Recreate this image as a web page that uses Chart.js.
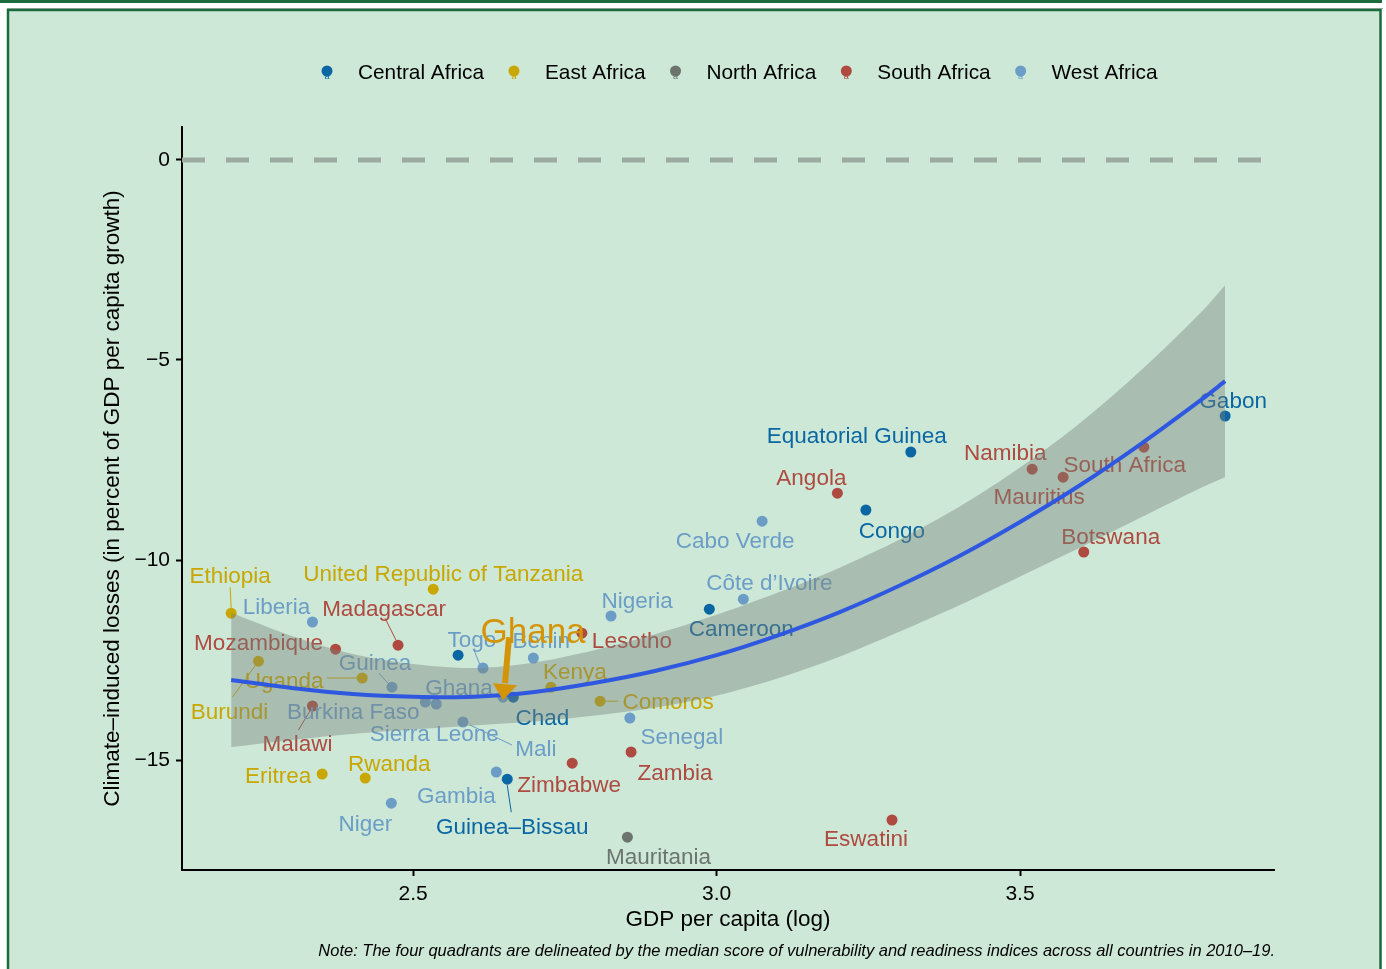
<!DOCTYPE html>
<html>
<head>
<meta charset="utf-8">
<script src="https://cdn.jsdelivr.net/npm/chart.js@4.4.1/dist/chart.umd.min.js"></script>
<style>
  html, body { margin: 0; padding: 0; background: #ffffff; }
  canvas { display: block; }
</style>
</head>
<body>
<canvas id="chart" width="1386" height="969"></canvas>
<script>
// ---- data ----------------------------------------------------------------
const countries = [
  'Ethiopia', 'Liberia', 'Madagascar', 'United Republic of Tanzania', 'Mozambique',
  'Burundi', 'Uganda', 'Guinea', 'Malawi', 'Burkina Faso',
  'Sierra Leone', 'Mali', 'Ghana', 'Chad', '',
  'Togo', 'Benin', 'Kenya', 'Lesotho', 'Nigeria',
  'Comoros', 'Senegal', 'Zambia', 'Zimbabwe', 'Gambia',
  'Guinea\u2013Bissau', 'Mauritania', 'Niger', 'Eritrea', 'Rwanda',
  'Cameroon', 'C\u00f4te d\u2019Ivoire', 'Cabo Verde', 'Angola', 'Congo',
  'Equatorial Guinea', 'Eswatini', 'Namibia', 'Mauritius', 'South Africa',
  'Botswana', 'Gabon'
];
const gdpPerCapitaLog = [
  2.200, 2.334, 2.475, 2.533, 2.372,
  2.245, 2.416, 2.465, 2.334, 2.520,
  2.538, 2.582, 2.648, 2.665, 2.574,
  2.615, 2.698, 2.727, 2.778, 2.826,
  2.808, 2.857, 2.859, 2.762, 2.637,
  2.655, 2.853, 2.464, 2.350, 2.421,
  2.988, 3.044, 3.075, 3.199, 3.246,
  3.320, 3.289, 3.520, 3.571, 3.704,
  3.605, 3.838
];
const climateLosses = [
  -11.33, -11.55, -12.13, -10.73, -12.23,
  -12.53, -12.95, -13.18, -13.65, -13.55,
  -13.60, -14.05, -13.43, -13.43, -12.38,
  -12.70, -12.45, -13.18, -11.83, -11.40,
  -13.53, -13.95, -14.80, -15.08, -15.30,
  -15.48, -16.93, -16.08, -15.35, -15.45,
  -11.23, -10.98, -9.03, -8.33, -8.75,
  -7.30, -16.50, -7.73, -7.93, -7.18,
  -9.80, -6.40
];
const countryRegion = [
  'East Africa', 'West Africa', 'South Africa', 'East Africa', 'South Africa',
  'East Africa', 'East Africa', 'West Africa', 'South Africa', 'West Africa',
  'West Africa', 'West Africa', 'West Africa', 'Central Africa', 'Central Africa',
  'West Africa', 'West Africa', 'East Africa', 'South Africa', 'West Africa',
  'East Africa', 'West Africa', 'South Africa', 'South Africa', 'West Africa',
  'Central Africa', 'North Africa', 'West Africa', 'East Africa', 'East Africa',
  'Central Africa', 'West Africa', 'West Africa', 'South Africa', 'Central Africa',
  'Central Africa', 'South Africa', 'South Africa', 'South Africa', 'South Africa',
  'South Africa', 'Central Africa'
];
const regions = ['Central Africa', 'East Africa', 'North Africa', 'South Africa', 'West Africa'];
const regionColors = ['#0b67a3', '#c8a700', '#6b756d', '#ae4a40', '#6b9dc6'];

// quadratic fit with its 95% confidence band
const fitX     = [2.2, 2.3, 2.4, 2.5, 2.6, 2.7, 2.8, 2.9, 3.0, 3.1, 3.2, 3.3, 3.4, 3.5, 3.6, 3.7, 3.8, 3.838];
const fitY     = [-13.00, -13.20, -13.35, -13.42, -13.42, -13.30, -13.07, -12.77, -12.38, -11.89, -11.32, -10.65, -9.90, -9.05, -8.12, -7.09, -5.98, -5.53];
const fitUpper = [-11.32, -11.90, -12.35, -12.60, -12.70, -12.56, -12.25, -11.85, -11.37, -10.82, -10.21, -9.50, -8.67, -7.69, -6.56, -5.25, -3.78, -3.13];
const fitLower = [-14.68, -14.50, -14.35, -14.24, -14.14, -14.04, -13.89, -13.69, -13.39, -12.96, -12.43, -11.80, -11.13, -10.41, -9.68, -8.93, -8.18, -7.93];

const xTicks = [2.5, 3.0, 3.5];
const xTickLabels = ['2.5', '3.0', '3.5'];
const yTicks = [0, -5, -10, -15];
const yTickLabels = ['0', '\u22125', '\u221210', '\u221215'];
const zeroLine = 0;
const highlightCountry = 'Ghana';

const xTitle = 'GDP per capita (log)';
const yTitle = 'Climate\u2013induced losses (in percent of GDP per capita growth)';
const noteText = 'Note: The four quadrants are delineated by the median score of vulnerability and readiness indices across all countries in 2010\u201319.';

// ---- label placement (pixel offsets from each point) ----------------------
// [dx, dy] for the label centre, optional leader segment [x1, y1, x2, y2]
const labelPlacement = {
  'Ethiopia': [-1, -38, [-1, -26, 0, -5]],
  'Liberia': [-36, -16],
  'Madagascar': [-14, -37, [-13, -27, -2, -5]],
  'United Republic of Tanzania': [10, -16],
  'Mozambique': [-77, -7],
  'Burundi': [-29, 50, [-26, 36, -3, 4]],
  'Uganda': [-78, 2, [-35, 0, -5, 0]],
  'Guinea': [-17, -25, [-13, -14, -4, -4]],
  'Malawi': [-15, 37, [-14, 24, -2, 4]],
  'Burkina Faso': [-72, 9],
  'Sierra Leone': [-2, 29],
  'Mali': [73, 26, [7, 3, 49, 23]],
  'Ghana': [-44, -10],
  'Chad': [29, 20],
  'Togo': [-11, -29, [-9, -18, -3, -3]],
  'Benin': [8, -18],
  'Kenya': [24, -16],
  'Lesotho': [50, 7],
  'Nigeria': [26, -16],
  'Comoros': [68, 0, [6, 0, 18, 0]],
  'Senegal': [52, 18],
  'Zambia': [44, 20],
  'Zimbabwe': [-3, 21],
  'Gambia': [-40, 23],
  'Guinea\u2013Bissau': [5, 47, [0, 6, 4, 33]],
  'Mauritania': [31, 19],
  'Niger': [-26, 20],
  'Eritrea': [-44, 1],
  'Rwanda': [24, -15],
  'Cameroon': [32, 19],
  'C\u00f4te d\u2019Ivoire': [26, -17],
  'Cabo Verde': [-27, 19],
  'Angola': [-26, -16],
  'Congo': [26, 20],
  'Equatorial Guinea': [-54, -17],
  'Eswatini': [-26, 18],
  'Namibia': [-27, -17],
  'Mauritius': [-24, 19],
  'South Africa': [-19, 17],
  'Botswana': [27, -16],
  'Gabon': [8, -16]
};

const FONT = '"Liberation Sans", Arial, Helvetica, sans-serif';
const HIGHLIGHT_COLOR = '#d4940a';
const BG = '#cde8d7';
const FRAME = '#1b6b3f';

const colorOf = r => regionColors[regions.indexOf(r)];

// ---- datasets ------------------------------------------------------------
const scatterSets = regions.map((r, ri) => ({
  type: 'scatter',
  label: r,
  order: 5,
  data: countries.map((c, i) => ({ x: gdpPerCapitaLog[i], y: climateLosses[i], name: c, region: countryRegion[i] }))
                 .filter(p => p.region === r),
  backgroundColor: regionColors[ri],
  borderWidth: 0,
  pointRadius: 5.5
}));

const datasets = [
  {
    type: 'line', label: 'zero', order: 10,
    data: [{ x: 2.119, y: zeroLine }, { x: 3.9185, y: zeroLine }],
    borderColor: '#9cab9f', borderWidth: 5, borderDash: [23, 21],
    pointRadius: 0, fill: false
  },
  ...scatterSets,
  {
    type: 'line', label: 'lower', order: 2,
    data: fitX.map((x, i) => ({ x, y: fitLower[i] })),
    borderWidth: 0, pointRadius: 0, tension: 0.3, fill: false
  },
  {
    type: 'line', label: 'upper', order: 1,
    data: fitX.map((x, i) => ({ x, y: fitUpper[i] })),
    borderWidth: 0, pointRadius: 0, tension: 0.3,
    fill: { target: 6 }, backgroundColor: 'rgba(120,128,122,0.42)'
  },
  {
    type: 'line', label: 'fit', order: 0,
    data: fitX.map((x, i) => ({ x, y: fitY[i] })),
    borderColor: '#2f58e0', borderWidth: 4, pointRadius: 0, tension: 0.3, fill: false
  }
];
const LOWER_INDEX = 6;

// ---- plugins -------------------------------------------------------------
const framePlugin = {
  id: 'frame',
  beforeDraw(chart) {
    const ctx = chart.ctx;
    ctx.save();
    ctx.fillStyle = '#ffffff';
    ctx.fillRect(0, 0, chart.width, chart.height);
    ctx.fillStyle = FRAME;
    ctx.fillRect(0, 0, 1382, 3);
    ctx.fillStyle = '#a9b5ad';
    ctx.fillRect(7, 8, 1376, 1);
    ctx.fillStyle = BG;
    ctx.fillRect(8, 10, 1373, chart.height);
    ctx.strokeStyle = FRAME;
    ctx.lineWidth = 2.5;
    ctx.strokeRect(8, 10, 1372.5, chart.height + 10);
    ctx.restore();
  }
};

function drawCountryLabels(chart) {
  const ctx = chart.ctx;
  const xs = chart.scales.x, ys = chart.scales.y;
  ctx.save();
  ctx.font = `22.5px ${FONT}`;
  ctx.textAlign = 'center';
  ctx.textBaseline = 'middle';
  countries.forEach((c, i) => {
    const place = labelPlacement[c];
    if (!place) return;
    const px = xs.getPixelForValue(gdpPerCapitaLog[i]);
    const py = ys.getPixelForValue(climateLosses[i]);
    const col = colorOf(countryRegion[i]);
    if (place[2]) {
      const s = place[2];
      ctx.strokeStyle = col;
      ctx.lineWidth = 1;
      ctx.beginPath();
      ctx.moveTo(px + s[0], py + s[1]);
      ctx.lineTo(px + s[2], py + s[3]);
      ctx.stroke();
    }
    ctx.fillStyle = col;
    ctx.fillText(c, px + place[0], py + place[1] + 1.5);
  });
  ctx.restore();
}

const labelPlugin = {
  id: 'countryLabels',
  beforeDatasetDraw(chart, args) {
    if (args.index === LOWER_INDEX) drawCountryLabels(chart);
  }
};

const highlightPlugin = {
  id: 'highlight',
  afterDatasetsDraw(chart) {
    const i = countries.indexOf(highlightCountry);
    const px = chart.scales.x.getPixelForValue(gdpPerCapitaLog[i]);
    const py = chart.scales.y.getPixelForValue(climateLosses[i]);
    const ctx = chart.ctx;
    ctx.save();
    ctx.strokeStyle = HIGHLIGHT_COLOR;
    ctx.fillStyle = HIGHLIGHT_COLOR;
    ctx.lineWidth = 6;
    ctx.beginPath();
    ctx.moveTo(px + 6, py - 60);
    ctx.lineTo(px + 2, py - 14);
    ctx.stroke();
    ctx.beginPath();
    ctx.moveTo(px - 10, py - 14);
    ctx.lineTo(px + 14, py - 12);
    ctx.lineTo(px, py + 3);
    ctx.closePath();
    ctx.fill();
    ctx.font = `35px ${FONT}`;
    ctx.textAlign = 'center';
    ctx.textBaseline = 'middle';
    ctx.fillText(highlightCountry, px + 30, py - 64);
    ctx.restore();
  }
};

const legendPlugin = {
  id: 'regionLegend',
  afterDraw(chart) {
    const ctx = chart.ctx;
    ctx.save();
    ctx.font = `20.8px ${FONT}`;
    ctx.textBaseline = 'middle';
    ctx.textAlign = 'left';
    let cx = 327;
    regions.forEach((r, ri) => {
      ctx.fillStyle = regionColors[ri];
      ctx.beginPath();
      ctx.arc(cx, 71, 5.5, 0, Math.PI * 2);
      ctx.fill();
      ctx.font = `9px ${FONT}`;
      ctx.textAlign = 'center';
      ctx.fillText('a', cx, 77);
      ctx.font = `20.8px ${FONT}`;
      ctx.textAlign = 'left';
      ctx.fillStyle = '#000000';
      const tx = cx + 31;
      ctx.fillText(r, tx, 73);
      cx = tx + ctx.measureText(r).width + 30;
    });
    // footnote
    ctx.font = `italic 16.5px ${FONT}`;
    ctx.textAlign = 'right';
    ctx.fillStyle = '#000000';
    ctx.fillText(noteText, 1275, 951);
    ctx.restore();
  }
};

// ---- chart ---------------------------------------------------------------
new Chart(document.getElementById('chart'), {
  data: { datasets },
  options: {
    responsive: false,
    devicePixelRatio: 1,
    animation: false,
    events: [],
    layout: { padding: { top: 127, right: 112, bottom: 0, left: 0 } },
    plugins: {
      legend: { display: false },
      tooltip: { enabled: false },
      filler: { propagate: false }
    },
    scales: {
      x: {
        type: 'linear',
        min: 2.119, max: 3.9185,
        afterFit(s) { s.height = 99; },
        afterBuildTicks(s) { s.ticks = xTicks.map(v => ({ value: v })); },
        ticks: {
          color: '#000000',
          font: { family: FONT, size: 21 },
          padding: 6,
          maxRotation: 0,
          callback: (v) => xTickLabels[xTicks.indexOf(v)]
        },
        grid: { display: true, drawOnChartArea: false, drawTicks: true, tickLength: 6, tickColor: '#000000', tickWidth: 2 },
        border: { display: true, color: '#000000', width: 2 },
        title: {
          display: true, text: xTitle, color: '#000000',
          font: { family: FONT, size: 22.5 },
          padding: { top: 0, bottom: 35.5 }
        }
      },
      y: {
        type: 'linear',
        min: -17.75, max: 0.825,
        afterFit(s) { s.width = 182; },
        afterBuildTicks(s) { s.ticks = yTicks.map(v => ({ value: v })); },
        ticks: {
          color: '#000000',
          font: { family: FONT, size: 21 },
          padding: 6,
          callback: (v) => yTickLabels[yTicks.indexOf(v)]
        },
        grid: { display: true, drawOnChartArea: false, drawTicks: true, tickLength: 6, tickColor: '#000000', tickWidth: 2 },
        border: { display: true, color: '#000000', width: 2 },
        title: {
          display: true, text: yTitle, color: '#000000',
          font: { family: FONT, size: 22.5 },
          padding: { top: 99.5, bottom: 0 }
        }
      }
    }
  },
  plugins: [framePlugin, labelPlugin, highlightPlugin, legendPlugin]
});
</script>
</body>
</html>
